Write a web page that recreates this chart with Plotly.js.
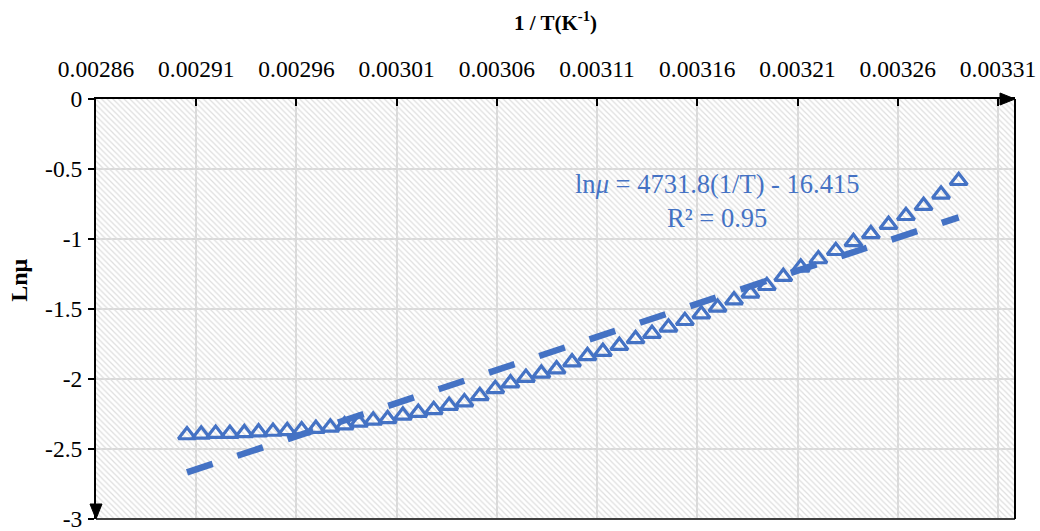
<!DOCTYPE html>
<html>
<head>
<meta charset="utf-8">
<script src="https://cdn.plot.ly/plotly-3.0.1.min.js"></script>
<style>html,body{margin:0;padding:0;background:#fff;}#chart{width:1040px;height:531px;}</style>
</head>
<body>
<div id="chart"></div>
<script>
// 1/T (K^-1) values
const invT = [
  0.0029054, 0.0029125, 0.0029197, 0.0029268, 0.0029340, 0.0029411, 0.0029483, 0.0029554, 0.0029626, 0.0029697,
  0.0029769, 0.0029840, 0.0029912, 0.0029983, 0.0030055, 0.0030131, 0.0030208, 0.0030285, 0.0030362, 0.0030438,
  0.0030515, 0.0030592, 0.0030668, 0.0030745, 0.0030822, 0.0030898, 0.0030975, 0.0031052, 0.0031129, 0.0031211,
  0.0031292, 0.0031374, 0.0031456, 0.0031538, 0.0031620, 0.0031701, 0.0031783, 0.0031865, 0.0031947, 0.0032029,
  0.0032116, 0.0032204, 0.0032291, 0.0032379, 0.0032466, 0.0032554, 0.0032641, 0.0032729, 0.0032816, 0.0032904
];
// ln(mu) values
const lnMu = [
  -2.400, -2.395, -2.390, -2.390, -2.385, -2.380, -2.375, -2.370, -2.365, -2.355,
  -2.345, -2.330, -2.310, -2.295, -2.285, -2.260, -2.240, -2.220, -2.190, -2.165,
  -2.120, -2.070, -2.030, -1.990, -1.960, -1.930, -1.880, -1.835, -1.805, -1.762,
  -1.714, -1.676, -1.631, -1.584, -1.536, -1.488, -1.436, -1.388, -1.334, -1.269,
  -1.202, -1.143, -1.084, -1.021, -0.964, -0.898, -0.834, -0.762, -0.681, -0.584
];
// Linear trendline from the chart's equation
const slope = 4731.8;
const intercept = -16.415;
const rSquared = 0.95;

const xRange = [0.00286, 0.0033185];
const yRange = [-3, 0];
const yTickVals = [0, -0.5, -1, -1.5, -2, -2.5, -3];
const yTickText = ['0', '-0.5', '-1', '-1.5', '-2', '-2.5', '-3'];

const blue = '#4472C4';
const serif = 'Liberation Serif, Times New Roman, serif';

const trendX = [invT[0], invT[invT.length - 1]];
const trendY = trendX.map(x => slope * x + intercept);

const traces = [
  { // hatched plot background
    x: [xRange[0], xRange[1], xRange[1], xRange[0]],
    y: [yRange[0], yRange[0], yRange[1], yRange[1]],
    mode: 'none', fill: 'toself', fillcolor: 'rgba(0,0,0,0)',
    fillpattern: {shape: '\\', size: 4, solidity: 0.3, fgcolor: '#dedede', bgcolor: 'rgba(0,0,0,0)'},
    hoverinfo: 'skip', showlegend: false
  },
  {
    x: invT, y: lnMu, mode: 'markers', name: 'ln μ',
    marker: {symbol: 'triangle-up-open', size: 15, color: blue, line: {color: blue, width: 3.2}},
    showlegend: false
  },
  {
    x: trendX, y: trendY, mode: 'lines', name: 'Linear fit',
    line: {color: blue, width: 6.5, dash: '27px,26px'},
    showlegend: false
  }
];

// arrowhead geometry in paper units (plot area is 919 x 420 px)
const pw = 919, ph = 420;
const xArrow = 'M ' + (1 - 15 / pw) + ' ' + (1 + 6 / ph) + ' L 1 1 L ' + (1 - 15 / pw) + ' ' + (1 - 6 / ph) + ' Z';
const yArrow = 'M ' + (-6 / pw) + ' ' + (15 / ph) + ' L 0 0 L ' + (6 / pw) + ' ' + (15 / ph) + ' Z';

const layout = {
  width: 1040, height: 531,
  margin: {l: 96, r: 25, t: 99, b: 12},
  paper_bgcolor: '#ffffff', plot_bgcolor: '#ffffff',
  font: {family: serif, size: 23, color: '#000'},
  showlegend: false,
  xaxis: {
    side: 'top', range: xRange, tick0: 0.00286, dtick: 0.00005, tickformat: '.5f',
    ticks: 'inside', ticklen: 7, tickwidth: 2, tickcolor: '#000',
    showline: true, linecolor: '#000', linewidth: 2,
    showgrid: true, gridcolor: '#d9d9d9', gridwidth: 2, zeroline: false,
    tickfont: {family: serif, size: 23.5, color: '#000'},
    ticklabelstandoff: 11, ticklabeloverflow: 'allow',
    title: {text: '<b>1 / T(K<sup>-1</sup>)</b>', font: {family: serif, size: 21, color: '#000'}, standoff: 19}
  },
  yaxis: {
    range: yRange, tickvals: yTickVals, ticktext: yTickText,
    ticks: 'outside', ticklen: 6, tickwidth: 2, tickcolor: '#000',
    showline: true, linecolor: '#000', linewidth: 2,
    showgrid: true, gridcolor: '#d9d9d9', gridwidth: 2, zeroline: false,
    tickfont: {family: serif, size: 23.5, color: '#000'},
    ticklabelstandoff: 1, ticklabeloverflow: 'allow'
  },
  shapes: [
    {type: 'line', xref: 'paper', yref: 'paper', x0: 0, x1: 1, y0: 0, y1: 0, line: {color: '#404040', width: 2}},
    {type: 'line', xref: 'paper', yref: 'paper', x0: 1, x1: 1, y0: 0, y1: 1, line: {color: '#000', width: 2}},
    {type: 'path', xref: 'paper', yref: 'paper', path: xArrow, fillcolor: '#000', line: {color: '#000', width: 1}},
    {type: 'path', xref: 'paper', yref: 'paper', path: yArrow, fillcolor: '#000', line: {color: '#000', width: 1}}
  ],
  annotations: [
    {xref: 'paper', yref: 'paper', x: -0.084, y: 0.569, xanchor: 'center', yanchor: 'middle',
     text: '<b>Lnμ</b>', textangle: -90,
     showarrow: false, font: {family: serif, size: 24, color: '#000'}},
    {xref: 'x', yref: 'y', x: 0.00317, y: -0.729, xanchor: 'center', yanchor: 'middle', align: 'center',
     text: 'ln<i>μ</i> = ' + slope + '(1/T) - ' + Math.abs(intercept) + '<br>R² = ' + rSquared,
     showarrow: false, font: {family: serif, size: 26.5, color: blue}}
  ]
};

Plotly.newPlot('chart', traces, layout, {displayModeBar: false, staticPlot: true});
</script>
</body>
</html>
